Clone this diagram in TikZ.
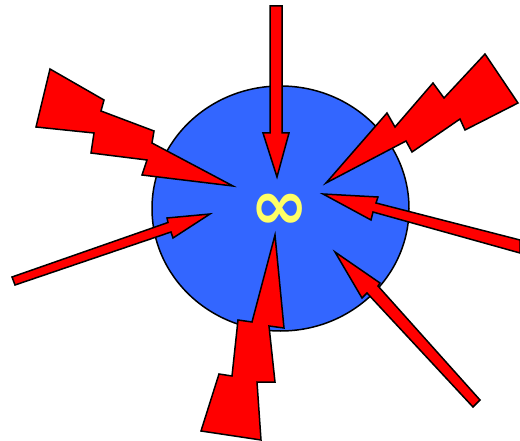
\documentclass[tikz,border=0pt]{standalone}
\usepackage{fontspec}
\newfontfamily\symfont{DejaVu Sans}
\usetikzlibrary{shapes.geometric}
\definecolor{diskblue}{HTML}{3366FF}
\definecolor{infyellow}{HTML}{FFFF66}
\tikzset{
  shape red/.style={fill=red, draw=black, line width=1.5pt, line join=miter},
  disk/.style={ellipse, fill=diskblue, draw=black, line width=1.5pt, inner sep=0pt},
}
\begin{document}
\begin{tikzpicture}[x=1pt,y=-1pt]
\useasboundingbox (0,0) rectangle (520,441);
\node[disk, minimum width=257pt, minimum height=245pt] (disk) at (280.5,208.5) {};
\node[text=infyellow, font=\symfont\bfseries\fontsize{70}{70}\selectfont, inner sep=0pt] (inf) at (279.5,212) {∞};
% top arrow
\draw[shape red] (270,6) -- (282,6) -- (282,133) -- (289,133) -- (277,177) -- (263,133) -- (270,133) -- cycle;
% left arrow
\draw[shape red] (12,277) -- (168,222.5) -- (167,218) -- (210,214) -- (173,238) -- (171,232) -- (15,285) -- cycle;
% right arrow
\draw[shape red] (520,240) -- (376,203) -- (378,197) -- (323,194) -- (371,220) -- (373,212) -- (520,253) -- cycle;
% bottom-right arrow
\draw[shape red] (480,400) -- (378,286) -- (380,283) -- (335,252) -- (362,298) -- (367,293) -- (473,407) -- cycle;
% upper-left bolt
\draw[shape red] (50,69) -- (104,100) -- (101,111) -- (154,131) -- (152,143) -- (233,186) -- (142,175) -- (147,160) -- (91,153) -- (94,133) -- (36,127) -- cycle;
% upper-right bolt
\draw[shape red] (485,54) -- (518,103) -- (465,130) -- (460,119) -- (412,152) -- (406,141) -- (326,183) -- (387,113) -- (395,127) -- (433,83) -- (444,98) -- cycle;
% bottom bolt
\draw[shape red] (275,235) -- (284,328) -- (269,326) -- (275,382) -- (257,382) -- (261,440) -- (201,431) -- (219,374) -- (232,376) -- (238,320) -- (252,322) -- cycle;
\end{tikzpicture}
\end{document}
